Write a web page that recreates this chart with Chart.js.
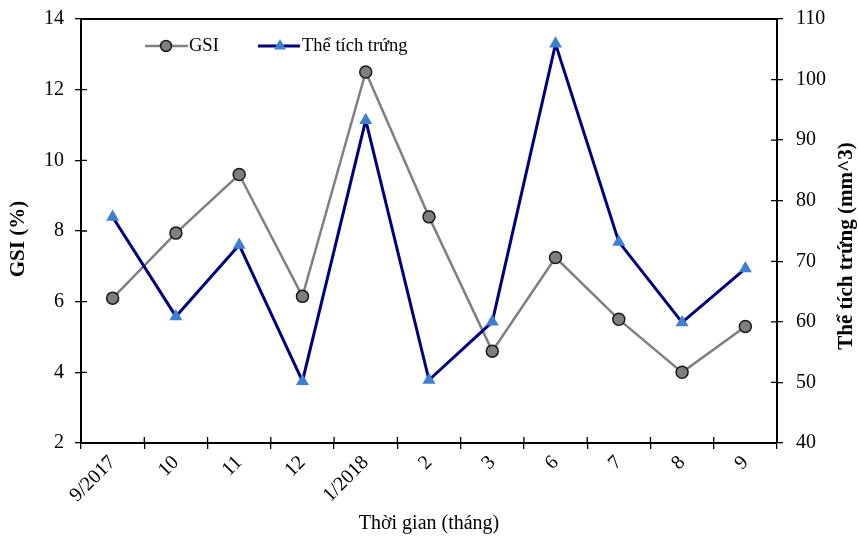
<!DOCTYPE html>
<html><head><meta charset="utf-8">
<script src="https://cdn.jsdelivr.net/npm/chart.js@4/dist/chart.umd.min.js"></script>
<style>html,body{margin:0;padding:0;background:#fff}#wrap{width:858px;height:544px;position:relative}</style>
</head><body><div id="wrap"><canvas id="c" width="858" height="544"></canvas></div>
<script>
const categories = ['9/2017', '10', '11', '12', '1/2018', '2', '3', '6', '7', '8', '9'];
const gsiValues = [6.1, 7.94, 9.6, 6.15, 12.5, 8.4, 4.6, 7.25, 5.5, 4.0, 5.3];
const volumeValues = [77.3, 60.9, 72.7, 50.2, 93.3, 50.4, 60.0, 105.9, 73.2, 59.9, 68.8];
const seriesNames = ['GSI', 'Thể tích trứng'];
const leftTitle = 'GSI (%)';
const rightTitle = 'Thể tích trứng (mm^3)';
const xTitle = 'Thời gian (tháng)';
const leftRange = [2, 14, 2];
const rightRange = [40, 110, 10];

const FONT = "'Liberation Serif', 'Times New Roman', serif";
const GSI_LINE = '#808080', GSI_FILL = '#7f7f7f', GSI_BORDER = '#1a1a1a';
const VOL_LINE = '#00007f', VOL_FILL = '#3f7fcf';

function drawTriangle(ctx, x, y, r) {
  const side = r * Math.sqrt(3);
  ctx.beginPath();
  ctx.moveTo(x, y - r);
  ctx.lineTo(x + side / 2, y + r / 2);
  ctx.lineTo(x - side / 2, y + r / 2);
  ctx.closePath();
  ctx.fill();
}

function drawVerticalText(ctx, text, x, y, font) {
  ctx.save();
  ctx.fillStyle = '#000';
  ctx.font = font;
  ctx.textAlign = 'center';
  ctx.textBaseline = 'middle';
  ctx.translate(x, y);
  ctx.rotate(-Math.PI / 2);
  ctx.fillText(text, 0, 0);
  ctx.restore();
}

const framePlugin = {
  id: 'frame',
  afterDraw(chart) {
    const ctx = chart.ctx, a = chart.chartArea;
    const xs = chart.scales.x, yl = chart.scales.y, yr = chart.scales.y1;
    ctx.save();
    ctx.strokeStyle = '#000';
    ctx.lineWidth = 2;
    ctx.beginPath();
    ctx.moveTo(a.left, a.top); ctx.lineTo(a.right, a.top);
    ctx.stroke();
    ctx.lineWidth = 1.3;
    ctx.beginPath();
    yl.ticks.forEach((t, i) => { const y = yl.getPixelForTick(i); ctx.moveTo(a.left, y); ctx.lineTo(a.left + 6, y); });
    yr.ticks.forEach((t, i) => { const y = yr.getPixelForTick(i); ctx.moveTo(a.right - 6, y); ctx.lineTo(a.right, y); });
    for (let i = 0; i <= categories.length; i++) { const x = xs.getPixelForValue(i - 0.5); ctx.moveTo(x, a.bottom - 6); ctx.lineTo(x, a.bottom); }
    ctx.stroke();
    ctx.restore();

    drawVerticalText(ctx, leftTitle, 18.5, (a.top + a.bottom) / 2 + 8, "bold 21px " + FONT);
    drawVerticalText(ctx, rightTitle, 847, (a.top + a.bottom) / 2 + 15, "bold 21px " + FONT);

    // legend
    ctx.save();
    const ly = 46;
    ctx.lineWidth = 2.5;
    ctx.strokeStyle = GSI_LINE;
    ctx.beginPath(); ctx.moveTo(145, ly); ctx.lineTo(188, ly); ctx.stroke();
    ctx.fillStyle = GSI_FILL; ctx.strokeStyle = GSI_BORDER; ctx.lineWidth = 1.5;
    ctx.beginPath(); ctx.arc(166, ly, 5.5, 0, Math.PI * 2); ctx.fill(); ctx.stroke();
    ctx.lineWidth = 3; ctx.strokeStyle = VOL_LINE;
    ctx.beginPath(); ctx.moveTo(258, ly); ctx.lineTo(300, ly); ctx.stroke();
    ctx.fillStyle = VOL_FILL;
    drawTriangle(ctx, 280, ly, 7);
    ctx.fillStyle = '#000';
    ctx.font = "18.5px " + FONT;
    ctx.textAlign = 'left';
    ctx.textBaseline = 'middle';
    ctx.fillText(chart.data.datasets[0].label, 189, ly);
    ctx.fillText(chart.data.datasets[1].label, 302, ly);
    ctx.restore();
  }
};

function fixY(s) { s.width = 81; s.paddingTop = 0; s.paddingBottom = 0; }

new Chart(document.getElementById('c'), {
  type: 'line',
  data: {
    labels: categories,
    datasets: [
      { label: seriesNames[0], data: gsiValues, yAxisID: 'y', borderColor: GSI_LINE, borderWidth: 2.5,
        pointStyle: 'circle', pointRadius: 6, pointBackgroundColor: GSI_FILL, pointBorderColor: GSI_BORDER,
        pointBorderWidth: 1.5, tension: 0, order: 2 },
      { label: seriesNames[1], data: volumeValues, yAxisID: 'y1', borderColor: VOL_LINE, borderWidth: 3,
        pointStyle: 'triangle', pointRadius: 7.5, pointBackgroundColor: VOL_FILL, pointBorderColor: VOL_FILL,
        pointBorderWidth: 0, tension: 0, order: 1 }
    ]
  },
  options: {
    responsive: false,
    animation: false,
    devicePixelRatio: 1,
    layout: { padding: { top: 19, left: 0, right: 0, bottom: 0 } },
    plugins: { legend: { display: false }, tooltip: { enabled: false } },
    scales: {
      x: {
        type: 'category', offset: true,
        grid: { offset: true, drawOnChartArea: false, color: '#000', lineWidth: 1.3, tickLength: 6 },
        border: { color: '#000', width: 2 },
        ticks: { color: '#000', font: { family: FONT, size: 20 }, maxRotation: 45, minRotation: 45, autoSkip: false, padding: 2 },
        title: { display: true, text: xTitle, color: '#000', font: { family: FONT, size: 20 }, padding: { top: 0, bottom: 8 } },
        afterFit(s) { s.height = 101; s.paddingLeft = 0; s.paddingRight = 0; }
      },
      y: {
        position: 'left', min: leftRange[0], max: leftRange[1],
        grid: { drawOnChartArea: false, color: '#000', lineWidth: 1.3, tickLength: 6 },
        border: { color: '#000', width: 2 },
        ticks: { stepSize: leftRange[2], color: '#000', font: { family: FONT, size: 20 }, padding: 11 },
        afterFit: fixY
      },
      y1: {
        position: 'right', min: rightRange[0], max: rightRange[1],
        grid: { drawOnChartArea: false, color: '#000', lineWidth: 1.3, tickLength: 6 },
        border: { color: '#000', width: 2 },
        ticks: { stepSize: rightRange[2], color: '#000', font: { family: FONT, size: 20 }, padding: 13 },
        afterFit: fixY
      }
    }
  },
  plugins: [framePlugin]
});
</script></body></html>
